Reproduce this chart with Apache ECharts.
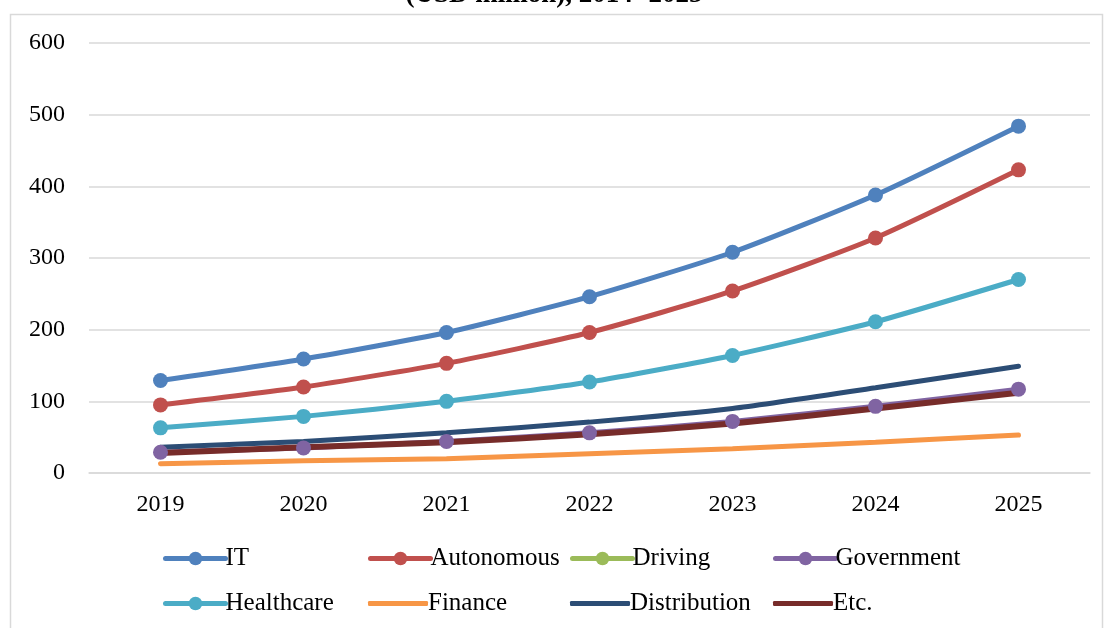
<!DOCTYPE html>
<html>
<head>
<meta charset="utf-8">
<script src="https://cdn.jsdelivr.net/npm/echarts@6/dist/echarts.min.js"></script>
<style>
  html, body { margin: 0; padding: 0; background: #fff; }
  #chart { width: 1108px; height: 628px; }
</style>
</head>
<body>
<div id="chart"></div>
<script>
const years = ['2019', '2020', '2021', '2022', '2023', '2024', '2025']
const yTicks = [0, 100, 200, 300, 400, 500, 600]

// values (USD million)
const itValues = [129, 159, 196, 246, 308, 388, 484]
const autonomousValues = [95, 120, 153, 196, 254, 328, 423]
const drivingValues = []
const governmentValues = [29, 35, 44, 56, 72, 93, 117]
const healthcareValues = [63, 79, 100, 127, 164, 211, 270]
const financeValues = [13, 17, 20, 27, 34, 43, 53]
const distributionValues = [36, 44, 56, 71, 90, 119, 149]
const etcValues = [28, 36, 43, 54, 69, 90, 112]

const seriesNames = ['IT', 'Autonomous', 'Driving', 'Government', 'Healthcare', 'Finance', 'Distribution', 'Etc.']
const seriesColors = ['#4F81BD', '#C0504D', '#9BBB59', '#8064A2', '#4BACC6', '#F79646', '#2C4D75', '#772C2A']
const seriesData = [itValues, autonomousValues, drivingValues, governmentValues, healthcareValues, financeValues, distributionValues, etcValues]
const withMarker = [true, true, true, true, true, false, false, false]

const font = '"Liberation Serif", "Times New Roman", serif'

const chart = echarts.init(document.getElementById('chart'))

// one legend per item so the columns line up like the original
const legendCols = [163, 368, 570, 773]
const legendRows = [546, 591]
const legends = seriesNames.map((name, i) => {
  const lg = {
    data: [name],
    left: legendCols[i % 4],
    top: legendRows[Math.floor(i / 4)],
    itemWidth: 60,
    itemHeight: 17,
    itemGap: 0,
    padding: 0,
    lineStyle: { width: 5, cap: 'round' },
    textStyle: { fontFamily: font, fontSize: 25, color: '#000', padding: [0, 0, 0, -5] }
  }
  if (!withMarker[i]) {
    // plain line sample, no marker
    lg.icon = 'roundRect'
    lg.itemHeight = 5
  }
  return lg
})

const series = seriesNames.map((name, i) => ({
  name,
  type: 'line',
  data: seriesData[i],
  smooth: 0.2,
  symbol: withMarker[i] ? 'circle' : 'none',
  symbolSize: 15,
  showSymbol: withMarker[i],
  color: seriesColors[i],
  lineStyle: { width: i === 7 ? 6 : 5, color: seriesColors[i], cap: 'round' },
  itemStyle: { color: seriesColors[i] },
  emphasis: { disabled: true }
}))

chart.setOption({
  animation: false,
  backgroundColor: '#fff',
  title: {
    text: '(USD million), 2014- 2025',
    left: 'center',
    top: -23,
    textStyle: { fontFamily: font, fontSize: 27, fontWeight: 'bold', color: '#000' }
  },
  graphic: [{
    type: 'rect',
    left: 8,
    top: 12,
    shape: { width: 1092, height: 640 },
    style: { fill: 'none', stroke: '#d9d9d9', lineWidth: 1.5 },
    silent: true,
    z: -1
  }],
  legend: legends,
  grid: { left: 89, right: 18, top: 43, bottom: 155 },
  xAxis: {
    type: 'category',
    data: years,
    boundaryGap: true,
    axisLine: { show: true, lineStyle: { color: '#d9d9d9', width: 1.5 } },
    axisTick: { show: false },
    axisLabel: { fontFamily: font, fontSize: 24, color: '#000', margin: 20 }
  },
  yAxis: {
    type: 'value',
    min: yTicks[0],
    max: yTicks[yTicks.length - 1],
    interval: 100,
    axisLine: { show: false },
    axisTick: { show: false },
    axisLabel: { fontFamily: font, fontSize: 24, color: '#000', margin: 24 },
    splitLine: { lineStyle: { color: '#d9d9d9', width: 1.5 } }
  },
  series
})
</script>
</body>
</html>
